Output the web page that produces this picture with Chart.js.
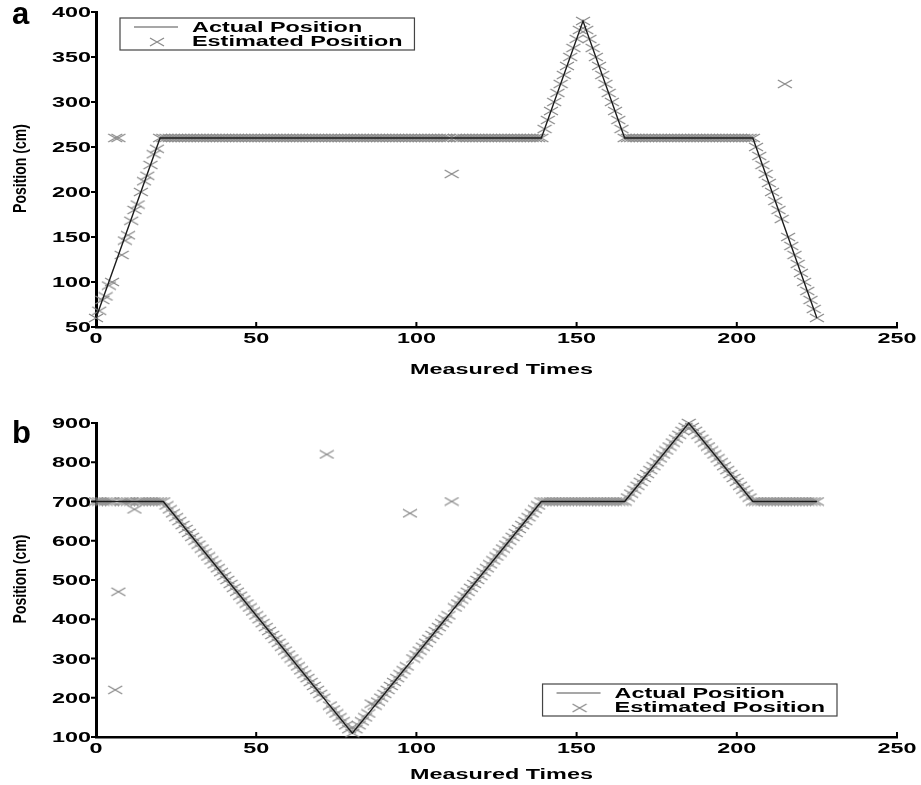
<!DOCTYPE html>
<html>
<head>
<meta charset="utf-8">
<script src="https://cdn.jsdelivr.net/npm/chart.js@4.4.1/dist/chart.umd.min.js"></script>
<style>
  html, body { margin: 0; padding: 0; background: #fff; }
  #wrap { position: relative; width: 921px; height: 785px; }
  canvas { position: absolute; left: 0; }
  #cA { top: 0; }
  #cB { top: 392px; }
</style>
</head>
<body>
<div id="wrap">
  <canvas id="cA" width="921" height="392"></canvas>
  <canvas id="cB" width="921" height="393"></canvas>
</div>
<script>
// ---- Panel a: position along a path (cm) per measured time ----
const actualTimesA = [0, 20, 139, 152, 165, 205, 225];
const actualPosA   = [60, 260, 260, 390, 260, 260, 60];

// estimated position at measured times 0, 1, 2, ... 225
const estimatedPosA = [
  60, 68, 80, 84, 96, 100, 260, 260, 130, 146, 152, 168, 180, 186, 200, 212, 218, 230, 242, 248, 260,
  260, 260, 260, 260, 260, 260, 260, 260, 260, 260,
  260, 260, 260, 260, 260, 260, 260, 260, 260, 260,
  260, 260, 260, 260, 260, 260, 260, 260, 260, 260,
  260, 260, 260, 260, 260, 260, 260, 260, 260, 260,
  260, 260, 260, 260, 260, 260, 260, 260, 260, 260,
  260, 260, 260, 260, 260, 260, 260, 260, 260, 260,
  260, 260, 260, 260, 260, 260, 260, 260, 260, 260,
  260, 260, 260, 260, 260, 260, 260, 260, 260, 260,
  260, 260, 260, 260, 260, 260, 260, 260, 260, 260,
  220, 260, 260, 260, 260, 260, 260, 260, 260, 260,
  260, 260, 260, 260, 260, 260, 260, 260, 260, 260,
  260, 260, 260, 260, 260, 260, 260, 260, 260,
  270, 280, 290, 300, 310, 320, 330, 340, 350, 360, 370, 380, 390,
  380, 370, 360, 350, 340, 330, 320, 310, 300, 290, 280, 270, 260,
  260, 260, 260, 260, 260, 260, 260, 260, 260, 260,
  260, 260, 260, 260, 260, 260, 260, 260, 260, 260,
  260, 260, 260, 260, 260, 260, 260, 260, 260, 260,
  260, 260, 260, 260, 260, 260, 260, 260, 260, 260,
  250, 240, 230, 220, 210, 200, 190, 180, 170, 320,
  150, 140, 130, 120, 110, 100, 90, 80, 70, 60
];

// ---- Panel b ----
const actualTimesB = [0, 21, 80, 139, 165, 185, 205, 225];
const actualPosB   = [700, 700, 110, 700, 700, 900, 700, 700];

const estimatedPosB = [
  700, 700, 700, 700, 700, 700, 220, 470, 700, 700, 700,
  700, 680, 700, 700, 700, 700, 700, 700, 700, 700, 700,
  690, 680, 670, 660, 650, 640, 630, 620, 610, 600,
  590, 580, 570, 560, 550, 540, 530, 520, 510, 500,
  490, 480, 470, 460, 450, 440, 430, 420, 410, 400,
  390, 380, 370, 360, 350, 340, 330, 320, 310, 300,
  290, 280, 270, 260, 250, 240, 230, 220, 210, 200,
  820, 180, 170, 160, 150, 140, 130, 120, 110,
  120, 130, 140, 150, 160, 185, 180, 190, 200, 210,
  220, 230, 240, 250, 260, 270, 280, 670, 300, 310,
  320, 330, 340, 350, 360, 370, 380, 390, 400, 410,
  700, 430, 440, 450, 460, 470, 480, 490, 500, 510,
  520, 530, 540, 550, 560, 570, 580, 590, 600, 610,
  620, 630, 640, 650, 660, 670, 680, 690, 700,
  700, 700, 700, 700, 700, 700, 700, 700, 700, 700, 700, 700, 700,
  700, 700, 700, 700, 700, 700, 700, 700, 700, 700, 700, 700, 700,
  710, 720, 730, 740, 750, 760, 770, 780, 790, 800,
  810, 820, 830, 840, 850, 860, 870, 880, 890, 900,
  890, 880, 870, 860, 850, 840, 830, 820, 810, 800,
  790, 780, 770, 760, 750, 740, 730, 720, 710, 700,
  700, 700, 700, 700, 700, 700, 700, 700, 700, 700,
  700, 700, 700, 700, 700, 700, 700, 700, 700, 700
];

const xTicks = [0, 50, 100, 150, 200, 250];
const xAxisTitle = 'Measured Times';
const yAxisTitle = 'Position (cm)';
const seriesNames = ['Actual Position', 'Estimated Position'];

// ---- drawing helpers ----
const FONT = '"Liberation Sans", Arial, Helvetica, sans-serif';
const WIDE = 1.67;             // horizontal widening applied to figure text
const MARK_COLOR = '#8a8a8a';
const LINE_COLOR = '#1c1c1c';

function makeCross(w, h, color) {
  const c = document.createElement('canvas');
  c.width = w; c.height = h;
  const g = c.getContext('2d');
  g.strokeStyle = color;
  g.lineWidth = 1.3;
  g.beginPath();
  g.moveTo(1, 1); g.lineTo(w - 1, h - 1);
  g.moveTo(1, h - 1); g.lineTo(w - 1, 1);
  g.stroke();
  return c;
}
const crossMark = makeCross(16, 10, MARK_COLOR);

function wideText(ctx, text, x, y, align, sx) {
  ctx.save();
  ctx.translate(x, y);
  ctx.scale(sx, 1);
  ctx.textAlign = align;
  ctx.textBaseline = 'alphabetic';
  ctx.fillText(text, 0, 0);
  ctx.restore();
}

// axes ticks, tick labels, titles, legend box and panel letter
const figureDecor = {
  id: 'figureDecor',
  afterDraw(chart, args, o) {
    const ctx = chart.ctx;
    const area = chart.chartArea;
    const xs = chart.scales.x, ys = chart.scales.y;
    ctx.save();

    // tick marks
    ctx.strokeStyle = '#000';
    ctx.lineWidth = 2;
    ctx.beginPath();
    xs.ticks.forEach(t => {
      const px = xs.getPixelForValue(t.value);
      ctx.moveTo(px, area.bottom);
      ctx.lineTo(px, area.bottom - 5);
    });
    ys.ticks.forEach(t => {
      const py = ys.getPixelForValue(t.value);
      ctx.moveTo(area.left - 5, py);
      ctx.lineTo(area.left, py);
    });
    ctx.stroke();

    // tick labels
    ctx.fillStyle = '#000';
    ctx.font = 'bold 14px ' + FONT;
    xs.ticks.forEach(t => {
      wideText(ctx, String(t.value), xs.getPixelForValue(t.value), area.bottom + 16, 'center', WIDE);
    });
    ys.ticks.forEach(t => {
      wideText(ctx, String(t.value), area.left - 5, ys.getPixelForValue(t.value) + 5, 'right', WIDE);
    });

    // axis titles
    wideText(ctx, xAxisTitle, (area.left + area.right) / 2 + 5, area.bottom + o.xTitleGap, 'center', WIDE);
    ctx.save();
    ctx.translate(26, (area.top + area.bottom) / 2 - 1);
    ctx.rotate(-Math.PI / 2);
    ctx.font = 'bold 18px ' + FONT;
    wideText(ctx, yAxisTitle, 0, 0, 'center', 0.78);
    ctx.restore();

    // legend
    ctx.font = 'bold 14px ' + FONT;
    const names = chart.data.datasets.map(d => d.label);
    const textW = Math.max(...names.map(n => ctx.measureText(n).width)) * WIDE;
    const boxW = 72 + textW + 12, boxH = 32;
    const bx = o.legendCorner === 'tl' ? area.left + o.legendDx : area.right - o.legendDx - boxW;
    const by = o.legendCorner === 'tl' ? area.top + o.legendDy : area.bottom - o.legendDy - boxH;
    ctx.fillStyle = '#fff';
    ctx.fillRect(bx, by, boxW, boxH);
    ctx.strokeStyle = '#444';
    ctx.lineWidth = 1.2;
    ctx.strokeRect(bx, by, boxW, boxH);
    ctx.strokeStyle = MARK_COLOR;
    ctx.lineWidth = 1.5;
    ctx.beginPath();
    ctx.moveTo(bx + 14, by + 9);
    ctx.lineTo(bx + 58, by + 9);
    ctx.stroke();
    ctx.drawImage(crossMark, bx + 37 - crossMark.width / 2, by + 24 - crossMark.height / 2);
    ctx.fillStyle = '#000';
    wideText(ctx, names[0], bx + 72, by + 14, 'left', WIDE);
    wideText(ctx, names[1], bx + 72, by + 28, 'left', WIDE);

    // panel letter
    ctx.font = 'bold 31px ' + FONT;
    ctx.textAlign = 'left';
    ctx.fillText(o.letter, 12, o.letterY);

    ctx.restore();
  }
};

function buildChart(canvasId, times, actual, estimated, yMin, yMax, yStep, pad, xAxisH, decor) {
  return new Chart(document.getElementById(canvasId), {
    type: 'scatter',
    data: {
      datasets: [
        {
          label: seriesNames[0],
          data: times.map((t, i) => ({ x: t, y: actual[i] })),
          showLine: true,
          borderColor: LINE_COLOR,
          borderWidth: 1.4,
          pointRadius: 0,
          tension: 0,
          clip: false
        },
        {
          label: seriesNames[1],
          data: estimated.map((v, i) => ({ x: i, y: v })),
          showLine: false,
          pointStyle: crossMark,
          pointRadius: 6,
          clip: false
        }
      ]
    },
    options: {
      responsive: false,
      animation: false,
      devicePixelRatio: 1,
      events: [],
      layout: { padding: { top: pad, right: 24, left: 0, bottom: 0 } },
      plugins: {
        legend: { display: false },
        tooltip: { enabled: false },
        figureDecor: decor
      },
      scales: {
        x: {
          type: 'linear',
          min: xTicks[0],
          max: xTicks[xTicks.length - 1],
          afterBuildTicks: s => { s.ticks = xTicks.map(v => ({ value: v })); },
          ticks: { display: false },
          grid: { drawOnChartArea: false, drawTicks: false, color: 'rgba(0,0,0,0)' },
          border: { display: true, color: '#000', width: 2.5 },
          afterFit: s => { s.height = xAxisH; }
        },
        y: {
          type: 'linear',
          min: yMin,
          max: yMax,
          ticks: { display: false, stepSize: yStep },
          grid: { drawOnChartArea: false, drawTicks: false, color: 'rgba(0,0,0,0)' },
          border: { display: true, color: '#000', width: 3 },
          afterFit: s => { s.width = 96; }
        }
      }
    },
    plugins: [figureDecor]
  });
}

buildChart('cA', actualTimesA, actualPosA, estimatedPosA, 50, 400, 50, 12, 65,
  { letter: 'a', letterY: 24, xTitleGap: 47, legendCorner: 'tl', legendDx: 24, legendDy: 6 });
buildChart('cB', actualTimesB, actualPosB, estimatedPosB, 100, 900, 100, 31, 48,
  { letter: 'b', letterY: 51, xTitleGap: 42, legendCorner: 'br', legendDx: 60, legendDy: 21 });
</script>
</body>
</html>
